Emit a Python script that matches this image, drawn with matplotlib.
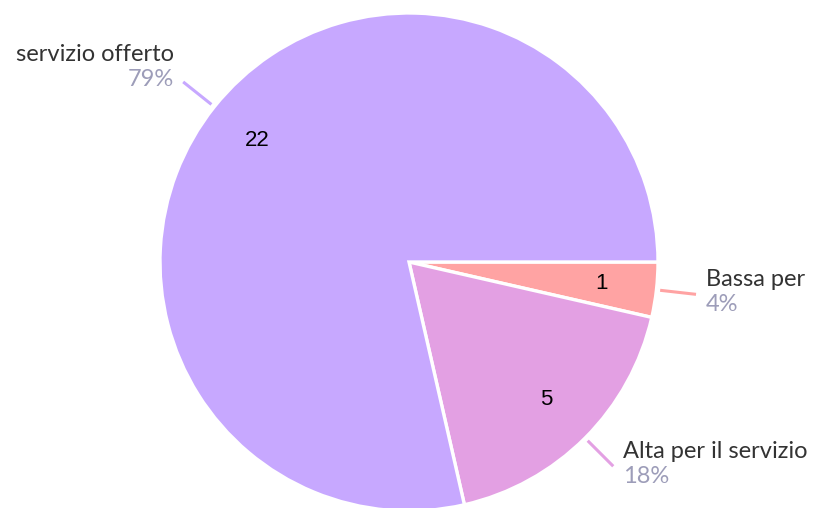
import numpy as np
import matplotlib
matplotlib.use("Agg")
import matplotlib.pyplot as plt

# dati del grafico
etichette = ["Bassa per", "Alta per il servizio", "servizio offerto"]
valori = [1, 5, 22]
colori = ["#FFA3A3", "#E3A0E3", "#C7A8FF"]

fig = plt.figure(figsize=(8.16, 5.08), dpi=100)
ax = fig.add_axes([0, 0, 1, 1])

centro = (409, 246)
raggio = 249

wedges, _, numeri = ax.pie(
    valori, colors=colori, startangle=0, counterclock=False,
    center=centro, radius=raggio, autopct=lambda p: f"{round(p * sum(valori) / 100)}",
    pctdistance=0.78, wedgeprops=dict(edgecolor="white", linewidth=2.4),
    frame=True,
)
for t in numeri:
    t.set_fontsize(16)
    t.set_family("Liberation Sans")
    t.set_color("black")

ax.set_xlim(0, 816)
ax.set_ylim(0, 508)
ax.set_aspect("equal")
ax.axis("off")

totale = sum(valori)
for w, nome, v, col in zip(wedges, etichette, valori, colori):
    ang = np.deg2rad((w.theta1 + w.theta2) / 2)
    c, s = np.cos(ang), np.sin(ang)
    x1, y1 = centro[0] + 1.015 * raggio * c, centro[1] + 1.015 * raggio * s
    x2, y2 = centro[0] + 1.16 * raggio * c, centro[1] + 1.16 * raggio * s
    ax.plot([x1, x2], [y1, y2], color=col, lw=2.2, solid_capstyle="butt")
    pct = f"{round(100 * v / totale)}%"
    if c > 0:
        # etichette a destra: testo allineato a sinistra
        ax.text(x2 + 10, y2 + 15, nome, ha="left", va="center",
                fontsize=17, family="Lato", color="#333333")
        ax.text(x2 + 10, y2 - 10, pct, ha="left", va="center",
                fontsize=17, family="Lato", color="#9D9DB9")
    else:
        # etichette a sinistra: testo allineato a destra
        ax.text(x2 - 9, y2 + 27, nome, ha="right", va="center",
                fontsize=17, family="Lato", color="#333333")
        ax.text(x2 - 9, y2 + 2, pct, ha="right", va="center",
                fontsize=17, family="Lato", color="#9D9DB9")

fig.savefig("out.png", dpi=100)
